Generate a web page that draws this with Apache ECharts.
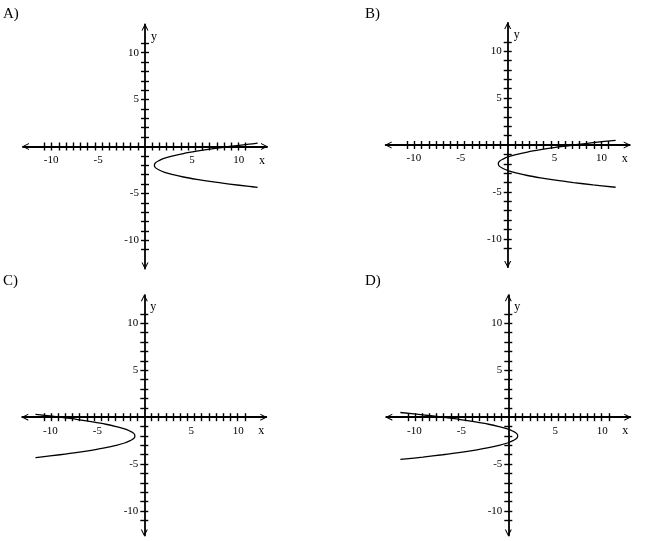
<!DOCTYPE html>
<html><head><meta charset="utf-8">
<script src="https://cdn.jsdelivr.net/npm/echarts@6/dist/echarts.min.js"></script>
<style>html,body{margin:0;padding:0;background:#fff}#c{width:650px;height:541px}</style>
</head><body><div id="c"></div>
<script>
// ---- data ----
const panelLabels = ['A)', 'B)', 'C)', 'D)'];
const xTickLabels = [-10, -5, 5, 10];
const yTickLabels = [-10, -5, 5, 10];
const yTicks = [-11,-10,-9,-8,-7,-6,-5,-4,-3,-2,-1,1,2,3,4,5,6,7,8,9,10,11];
const xTicks = [-14,-13,-12,-11,-10,-9,-8,-7,-6,-5,-4,-3,-2,-1,1,2,3,4,5,6,7,8,9,10,11,12,13,14];
const curveA = [[12.0,0.35],[11.1,0.25],[9.0,0],[7.1,-0.25],[5.5,-0.5],[4.1,-0.75],[3.0,-1],[2.1,-1.25],[1.5,-1.5],[1.1,-1.75],[1.0,-2],[1.1,-2.25],[1.5,-2.5],[2.1,-2.75],[3.0,-3],[4.1,-3.25],[5.5,-3.5],[7.1,-3.75],[9.0,-4],[11.1,-4.25],[12.0,-4.35]];
const curveB = [[11.5,0.5],[9.1,0.25],[7.0,0],[5.1,-0.25],[3.5,-0.5],[2.1,-0.75],[1.0,-1],[0.1,-1.25],[-0.5,-1.5],[-0.9,-1.75],[-1.0,-2],[-0.9,-2.25],[-0.5,-2.5],[0.1,-2.75],[1.0,-3],[2.1,-3.25],[3.5,-3.5],[5.1,-3.75],[7.0,-4],[9.1,-4.25],[11.5,-4.5]];
const curveC = [[-11.6,0.3],[-11.1,0.25],[-9.0,0],[-7.1,-0.25],[-5.5,-0.5],[-4.1,-0.75],[-3.0,-1],[-2.1,-1.25],[-1.5,-1.5],[-1.1,-1.75],[-1.0,-2],[-1.1,-2.25],[-1.5,-2.5],[-2.1,-2.75],[-3.0,-3],[-4.1,-3.25],[-5.5,-3.5],[-7.1,-3.75],[-9.0,-4],[-11.1,-4.25],[-11.6,-4.3]];
const curveD = [[-11.5,0.5],[-9.1,0.25],[-7.0,0],[-5.1,-0.25],[-3.5,-0.5],[-2.1,-0.75],[-1.0,-1],[-0.1,-1.25],[0.5,-1.5],[0.9,-1.75],[1.0,-2],[0.9,-2.25],[0.5,-2.5],[-0.1,-2.75],[-1.0,-3],[-2.1,-3.25],[-3.5,-3.5],[-5.1,-3.75],[-7.0,-4],[-9.1,-4.25],[-11.5,-4.5]];
const curves = [curveA, curveB, curveC, curveD];
const yMins = [-13, -13, -12.6, -12.6];

// ---- layout ----
const origins = [[145,146.5],[507.7,145],[144.3,417.2],[508.3,417.2]];
const unit = 122 / 13;
const labelPos = [[3,16],[365,16],[3,283],[365,283]];
const FONT = 'Liberation Serif';
const chev = 'path://M0,10 L5,0 L10,10 L8.4,10 L5,3.2 L1.6,10 Z';

const grid = [], xAxis = [], yAxis = [], series = [], graphic = [];
origins.forEach(function (o, g) {
  const up = 13 * unit, down = -yMins[g] * unit;
  grid.push({left: o[0]-122, top: o[1]-up, width: 244, height: up+down, containLabel: false});
  const xb = {type:'value', gridIndex: g, splitLine:{show:false}, offset:-down, position:'bottom'};
  const yb = {type:'value', gridIndex: g, splitLine:{show:false}, offset:-122, position:'left'};
  // main x axis (placed through y = 0)
  xAxis.push(Object.assign({}, xb, {min:-13, max:13,
    axisLine:{onZero:false, lineStyle:{color:'#000', width:1.8}, symbol:[chev, chev], symbolSize:[9,7], symbolOffset:[2.5,-2.5]},
    axisTick:{show:false},
    axisLabel:{customValues:xTickLabels, color:'#000', fontFamily:FONT, fontSize:11, margin:8}}));
  // tick axes (down and up)
  [false, true].forEach(function (inside) {
    xAxis.push(Object.assign({}, xb, {min:-17, max:17,
      axisLine:{show:false, onZero:false},
      axisTick:{show:true, inside:inside, length:4, customValues:xTicks, lineStyle:{color:'#000', width:1.4}},
      axisLabel:{show:false}}));
  });
  yAxis.push(Object.assign({}, yb, {min:yMins[g], max:13,
    axisLine:{onZero:false, lineStyle:{color:'#000', width:1.8}, symbol:[chev, chev], symbolSize:[9,7], symbolOffset:[2.5,-2.5]},
    axisTick:{show:false},
    axisLabel:{customValues:yTickLabels, color:'#000', fontFamily:FONT, fontSize:11, margin:6}}));
  [false, true].forEach(function (inside) {
    yAxis.push(Object.assign({}, yb, {min:yMins[g], max:13,
      axisLine:{show:false, onZero:false},
      axisTick:{show:true, inside:inside, length:4, customValues:yTicks, lineStyle:{color:'#000', width:1.4}},
      axisLabel:{show:false}}));
  });
  series.push({type:'line', xAxisIndex:g*3, yAxisIndex:g*3, data:curves[g], smooth:0.35,
    showSymbol:false, lineStyle:{color:'#000', width:1.3}, silent:true, animation:false});
  graphic.push({type:'text', left:labelPos[g][0], top:labelPos[g][1]-9,
    style:{text:panelLabels[g], font:'15px "Liberation Serif"', fill:'#000'}});
  graphic.push({type:'text', x:o[0]+114, y:o[1]+8,
    style:{text:'x', font:'12px "Liberation Serif"', fill:'#000'}});
  graphic.push({type:'text', x:o[0]+6, y:o[1]-116,
    style:{text:'y', font:'12px "Liberation Serif"', fill:'#000'}});
});

const chart = echarts.init(document.getElementById('c'), null, {renderer:'canvas'});
chart.setOption({animation:false, backgroundColor:'#fff', grid:grid, xAxis:xAxis, yAxis:yAxis, series:series, graphic:graphic});
</script></body></html>
